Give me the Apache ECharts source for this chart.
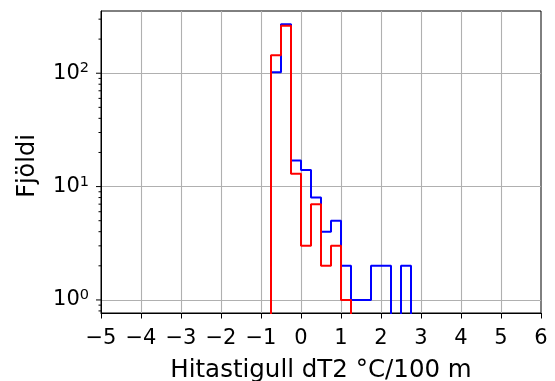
<!DOCTYPE html>
<html>
<head>
<meta charset="utf-8">
<script src="https://cdn.jsdelivr.net/npm/echarts@6/dist/echarts.min.js"></script>
<style>
  html, body { margin: 0; padding: 0; background: #ffffff; }
  #chart { width: 555px; height: 381px; }
</style>
</head>
<body>
<div id="chart"></div>
<script>
// Histogram bin edges, °C/100 m
const binEdges = [-0.75, -0.5, -0.25, 0, 0.25, 0.5, 0.75, 1, 1.25, 1.5, 1.75, 2, 2.25, 2.5, 2.75];
// Counts per bin for the two series
const blueCounts = [102, 271, 17, 14, 8, 4, 5, 2, 1, 1, 2, 2, 0, 2];
const redCounts  = [144, 262, 13, 3, 7, 2, 3, 1, 0, 0, 0, 0, 0, 0];

// Axis ranges and tick positions
const xRange = [-5, 6];
const yRange = [0.767, 354];
const yMajorTicks = [1, 10, 100];
const yMinorTicks = [0.8, 0.9, 2, 3, 4, 5, 6, 7, 8, 9, 20, 30, 40, 50, 60, 70, 80, 90, 200, 300];

const FONT = 'DejaVu Sans';
const FLOOR = 0.1; // empty bins sit below the log axis and get clipped

// Outline of a step histogram: up from the first edge, across each bin, down at the last edge
function stepOutline(edges, counts) {
  const pts = [[edges[0], FLOOR]];
  counts.forEach((c, i) => {
    const v = c > 0 ? c : FLOOR;
    pts.push([edges[i], v], [edges[i + 1], v]);
  });
  pts.push([edges[edges.length - 1], FLOOR]);
  return pts;
}

const tickData = yMajorTicks.map(v => [xRange[0], v, 1])
  .concat(yMinorTicks.map(v => [xRange[0], v, 0]));

const chart = echarts.init(document.getElementById('chart'), null, { renderer: 'canvas' });

chart.setOption({
  animation: false,
  backgroundColor: '#ffffff',
  grid: {
    left: 101, top: 11, width: 440, height: 302,
    containLabel: false, outerBoundsMode: 'none',
    show: true, borderColor: '#000000', borderWidth: 1, backgroundColor: 'transparent'
  },
  xAxis: {
    type: 'value',
    min: xRange[0], max: xRange[1], interval: 1,
    name: 'Hitastigull dT2 °C/100 m',
    nameLocation: 'middle',
    nameGap: 45,
    nameTextStyle: { fontFamily: FONT, fontSize: 24.5, color: '#000000' },
    axisLine: { show: true, onZero: false, lineStyle: { color: '#000000', width: 1 } },
    axisTick: { show: true, inside: false, length: 5.5, lineStyle: { color: '#000000', width: 1 } },
    axisLabel: {
      fontFamily: FONT, fontSize: 21, color: '#000000', margin: 15,
      formatter: v => String(v).replace('-', '\u2212')
    },
    splitLine: { show: true, showMinLine: false, showMaxLine: false, lineStyle: { color: '#b0b0b0', width: 1.1 } }
  },
  yAxis: {
    type: 'log', logBase: 10,
    min: yRange[0], max: yRange[1],
    name: 'Fjöldi',
    nameLocation: 'middle',
    nameGap: 61,
    nameTextStyle: { fontFamily: FONT, fontSize: 24, color: '#000000', padding: [0, 8, 0, 0] },
    axisLine: { show: true, onZero: false, lineStyle: { color: '#000000', width: 1 } },
    axisTick: { show: false },
    axisLabel: {
      margin: 12,
      showMinLabel: false, showMaxLabel: false,
      formatter: v => {
        const l = Math.log10(v);
        const e = Math.round(l);
        if (Math.abs(l - e) > 1e-6) return '';
        return '{b|10}{s|' + e + '}';
      },
      rich: {
        b: { fontFamily: FONT, fontSize: 21, color: '#000000', lineHeight: 24 },
        s: { fontFamily: FONT, fontSize: 14.5, color: '#000000', verticalAlign: 'top' }
      }
    },
    splitLine: { show: true, showMinLine: false, showMaxLine: false, lineStyle: { color: '#b0b0b0', width: 1.1 } }
  },
  series: [
    {
      name: 'blue', type: 'line', data: stepOutline(binEdges, blueCounts),
      symbol: 'none', clip: true,
      lineStyle: { color: '#0000ff', width: 2 }, z: 3
    },
    {
      name: 'red', type: 'line', data: stepOutline(binEdges, redCounts),
      symbol: 'none', clip: true,
      lineStyle: { color: '#ff0000', width: 2 }, z: 4
    },
    {
      // left-axis ticks at decades and the 2..9 subdivisions of a log scale
      name: 'yticks', type: 'custom', coordinateSystem: 'cartesian2d',
      data: tickData, encode: { x: 0, y: 1 }, clip: false, silent: true, z: 5,
      renderItem: (params, api) => {
        const p = api.coord([api.value(0), api.value(1)]);
        const len = api.value(2) ? 5.5 : 3;
        const x = Math.round(p[0]) + 0.5;
        return {
          type: 'line',
          shape: { x1: x - len, y1: p[1], x2: x, y2: p[1] },
          style: { stroke: '#000000', lineWidth: 1 }
        };
      }
    }
  ]
});
</script>
</body>
</html>
